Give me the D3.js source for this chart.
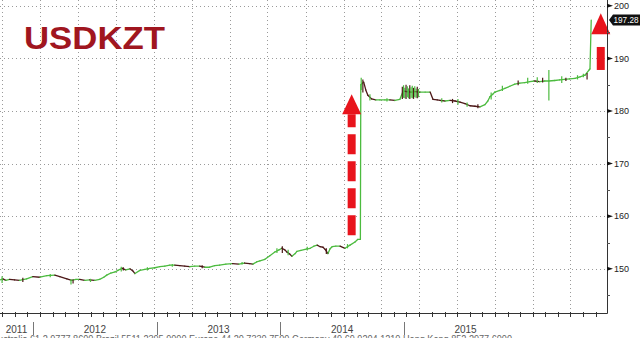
<!DOCTYPE html>
<html>
<head>
<meta charset="utf-8">
<script src="https://cdn.jsdelivr.net/npm/d3@7"></script>
<style>
	html, body { margin: 0; padding: 0; background: #fff; }
	svg { display: block; }
</style>
</head>
<body>
<div id="chart"></div>
<script>
// data
const title = 'USDKZT';
const dates = [
	'2011-09-26', '2011-10-03', '2011-10-10', '2011-10-19', '2011-10-31', '2011-11-12', '2011-11-29', '2011-12-14',
	'2011-12-31', '2012-01-17', '2012-02-05', '2012-02-17', '2012-03-05', '2012-03-17', '2012-03-27', '2012-04-05',
	'2012-04-17', '2012-04-29', '2012-05-11', '2012-05-23', '2012-06-02', '2012-06-09', '2012-06-19', '2012-06-29',
	'2012-07-06', '2012-07-16', '2012-07-25', '2012-08-04', '2012-08-11', '2012-08-16', '2012-08-28', '2012-09-09',
	'2012-09-21', '2012-10-03', '2012-10-15', '2012-10-27', '2012-11-08', '2012-11-20', '2012-12-02', '2012-12-14',
	'2012-12-26', '2013-01-07', '2013-01-19', '2013-01-31', '2013-02-12', '2013-02-24', '2013-03-08', '2013-03-23',
	'2013-04-08', '2013-04-23', '2013-05-07', '2013-05-19', '2013-05-27', '2013-06-05', '2013-06-13', '2013-06-25',
	'2013-07-07', '2013-07-19', '2013-07-29', '2013-08-05', '2013-08-12', '2013-08-17', '2013-08-24', '2013-08-29',
	'2013-09-06', '2013-09-10', '2013-09-20', '2013-09-30', '2013-10-12', '2013-10-21', '2013-10-29', '2013-11-05',
	'2013-11-12', '2013-11-17', '2013-11-24', '2013-11-29', '2013-12-04', '2013-12-13', '2013-12-23', '2014-01-04',
	'2014-01-16', '2014-01-28', '2014-02-04', '2014-02-10', '2014-02-11', '2014-02-18', '2014-02-23', '2014-02-28',
	'2014-03-09', '2014-03-19', '2014-03-29', '2014-04-10', '2014-04-22', '2014-05-04', '2014-05-16', '2014-05-24',
	'2014-06-02', '2014-06-12', '2014-06-21', '2014-07-04', '2014-07-16', '2014-07-28', '2014-08-04', '2014-08-14',
	'2014-08-21', '2014-09-02', '2014-09-14', '2014-09-26', '2014-10-08', '2014-10-20', '2014-11-01', '2014-11-13',
	'2014-11-25', '2014-12-07', '2014-12-14', '2014-12-19', '2014-12-26', '2014-12-31', '2015-01-12', '2015-01-24',
	'2015-02-05', '2015-02-17', '2015-03-01', '2015-03-13', '2015-03-25', '2015-04-06', '2015-04-18', '2015-04-30',
	'2015-05-10', '2015-05-24', '2015-06-05', '2015-06-17', '2015-06-29', '2015-07-12', '2015-07-24', '2015-08-05',
	'2015-08-15', '2015-08-17', '2015-08-20'
];
const closes = [
	147.9, 148.1, 147.8, 148.0, 147.9, 147.8, 148.1, 148.5,
	148.4, 148.7, 148.8, 148.5, 148.1, 147.8, 148.0, 148.0,
	147.8, 147.9, 147.8, 148.0, 148.4, 148.8, 149.2, 149.4,
	149.7, 150.1, 149.8, 150.0, 149.6, 149.1, 149.7, 149.9,
	150.1, 150.2, 150.4, 150.5, 150.7, 150.7, 150.6, 150.5,
	150.4, 150.5, 150.5, 150.3, 150.3, 150.6, 150.7, 150.9,
	151.0, 150.9, 151.1, 151.0, 150.9, 151.3, 151.5, 151.8,
	152.5, 153.2, 153.6, 153.9, 153.6, 153.2, 152.8, 152.4,
	152.9, 153.3, 153.5, 153.7, 153.9, 154.3, 154.5, 154.2,
	154.1, 153.7, 152.9, 153.8, 154.2, 154.3, 154.3, 153.9,
	154.5, 155.1, 155.6, 155.6, 185.0, 185.5, 184.0, 183.0,
	182.3, 182.1, 182.1, 182.1, 182.1, 182.0, 182.2, 183.8,
	183.7, 183.6, 183.7, 183.6, 183.6, 183.6, 182.2, 182.1,
	182.0, 181.9, 182.0, 181.9, 181.7, 181.4, 181.0, 180.9,
	180.8, 181.2, 181.9, 182.7, 183.2, 183.6, 183.9, 184.3,
	184.7, 185.1, 185.3, 185.4, 185.6, 185.7, 185.6, 185.7,
	185.7, 185.8, 185.9, 186.0, 186.1, 186.2, 186.5, 186.8,
	187.8, 188.0, 197.28
];
// high-low bars
const spikeDates = [
	'2011-10-01', '2011-11-20', '2012-01-25', '2012-03-15', '2012-03-20', '2012-05-01',
	'2012-07-14', '2012-07-19', '2012-09-15', '2012-11-14', '2013-01-25', '2013-05-01',
	'2013-07-24', '2013-08-06', '2013-08-20', '2013-10-05', '2013-11-20', '2014-01-10',
	'2014-02-12', '2014-02-16', '2014-03-05', '2014-04-15',
	'2014-05-22', '2014-05-25', '2014-05-28', '2014-05-31', '2014-06-03', '2014-06-06', '2014-06-09',
	'2014-06-12', '2014-06-15', '2014-06-18', '2014-06-21', '2014-06-24', '2014-06-27', '2014-06-30',
	'2014-08-25', '2014-09-20', '2014-10-03', '2014-10-25', '2014-11-20', '2014-12-22',
	'2015-01-18', '2015-02-25', '2015-03-20', '2015-04-12', '2015-04-25', '2015-05-10',
	'2015-06-10', '2015-06-20', '2015-07-18', '2015-08-01', '2015-08-10'
];
const spikeLows = [
	147.3, 147.5, 148.4, 147.0, 147.2, 147.5,
	149.5, 149.7, 149.7, 150.4, 150.1, 150.8,
	153.0, 153.0, 152.6, 153.5, 152.8, 153.9,
	184.0, 183.5, 182.0, 181.8,
	182.3, 182.5, 182.4, 182.3, 182.6, 182.4, 182.3,
	182.5, 182.4, 182.3, 182.6, 182.5, 182.4, 182.6,
	181.6, 181.5, 181.2, 180.8, 180.5, 182.2,
	183.8, 184.9, 185.2, 185.3, 185.4, 182.0,
	185.3, 185.7, 186.0, 186.4, 186.0
];
const spikeHighs = [
	148.6, 148.3, 149.0, 148.0, 148.0, 148.1,
	150.4, 150.3, 150.3, 150.9, 150.7, 151.3,
	153.9, 154.3, 153.6, 154.2, 153.9, 154.7,
	186.3, 186.0, 183.2, 182.4,
	184.6, 184.9, 184.4, 185.0, 184.7, 184.3, 184.9,
	184.5, 184.8, 184.4, 184.7, 184.3, 184.6, 184.2,
	182.4, 182.3, 182.3, 181.6, 181.3, 183.5,
	184.8, 185.8, 186.3, 186.4, 186.3, 187.8,
	186.6, 186.3, 186.8, 187.1, 187.2
];
const yTicks = [150, 160, 170, 180, 190, 200];
const yMinorTicks = [145, 155, 165, 175, 185, 195];
const yearLabels = [2011, 2012, 2013, 2014, 2015];
const lastValue = 197.28;
const arrowDates = ['2014-01-20', '2015-09-12'];
const arrowFrom = [156.4, 187.8];
const arrowTo = [183.2, 198.6];
const footer = 'Australia 61 2 9777 8600 Brazil 5511 2395 9000 Europe 44 20 7330 7500 Germany 49 69 9204 1210 Hong Kong 852 2977 6000';

const parse = d3.timeParse('%Y-%m-%d');
const width = 640, height = 338;
const plotRight = 607, plotBottom = 313;
const green = '#4cbb3f', dark = '#4d1818', red = '#e8141c';

const svg = d3.select('#chart').append('svg')
	.attr('width', width)
	.attr('height', height);

const x = d3.scaleTime()
	.domain([parse('2011-09-26'), parse('2015-09-27')])
	.range([0, plotRight]);
const y = d3.scaleLinear()
	.domain([141.6, 201.1])
	.range([plotBottom, 0]);
const yearX = d3.scaleLinear()
	.domain([2012, 2015])
	.range([33, 404]);

// grid
svg.append('g').selectAll('line.hgrid')
	.data(yTicks)
	.enter().append('line')
	.attr('class', 'hgrid')
	.attr('x1', 0).attr('x2', plotRight)
	.attr('y1', d => Math.round(y(d)) + 0.5).attr('y2', d => Math.round(y(d)) + 0.5)
	.attr('stroke', '#9a9a9a').attr('stroke-dasharray', '1,3');

const quarters = d3.timeMonth.every(3).range(x.domain()[0], x.domain()[1]);
svg.append('g').selectAll('line.vgrid')
	.data(quarters)
	.enter().append('line')
	.attr('class', 'vgrid')
	.attr('x1', d => Math.round(x(d)) + 0.5).attr('x2', d => Math.round(x(d)) + 0.5)
	.attr('y1', 0).attr('y2', plotBottom)
	.attr('stroke', '#9a9a9a').attr('stroke-dasharray', '1,3');

// title
svg.append('text')
	.attr('x', 24).attr('y', 49)
	.attr('textLength', 141).attr('lengthAdjust', 'spacingAndGlyphs')
	.style('font-family', '"Liberation Sans", Arial, sans-serif')
	.style('font-weight', 'bold')
	.style('font-size', '31px')
	.attr('fill', '#a0161f')
	.text(title);

// price line, coloured per move
const points = dates.map((d, i) => ({ date: parse(d), value: closes[i] }));
svg.append('g').selectAll('line.seg')
	.data(points.slice(1))
	.enter().append('line')
	.attr('class', 'seg')
	.attr('x1', (d, i) => x(points[i].date)).attr('y1', (d, i) => y(points[i].value))
	.attr('x2', d => x(d.date)).attr('y2', d => y(d.value))
	.attr('stroke', (d, i) => d.value >= points[i].value ? green : dark)
	.attr('stroke-width', 1.3)
	.attr('stroke-linecap', 'round');

svg.append('g').selectAll('line.spike')
	.data(spikeDates)
	.enter().append('line')
	.attr('class', 'spike')
	.attr('x1', d => x(parse(d))).attr('x2', d => x(parse(d)))
	.attr('y1', (d, i) => y(spikeLows[i])).attr('y2', (d, i) => y(spikeHighs[i]))
	.attr('stroke', (d, i) => i % 3 == 1 ? dark : green)
	.attr('stroke-width', 1.2);

// red arrows
arrowDates.forEach(function(d, i) {
	var cx = x(parse(d));
	var tip = y(arrowTo[i]);
	var base = y(arrowFrom[i]);
	var headLen = i == 0 ? 20 : 21;
	svg.append('line')
		.attr('x1', cx).attr('x2', cx)
		.attr('y1', base).attr('y2', tip + headLen)
		.attr('stroke', red)
		.attr('stroke-width', 8)
		.attr('stroke-dasharray', i == 0 ? '20,7' : '23,13');
	svg.append('path')
		.attr('d', 'M' + cx + ',' + tip + 'L' + (cx + 9.5) + ',' + (tip + headLen) + 'L' + (cx - 9.5) + ',' + (tip + headLen) + 'Z')
		.attr('fill', red);
});

// bottom axis
svg.append('line')
	.attr('x1', 0).attr('x2', plotRight + 0.5)
	.attr('y1', plotBottom + 0.5).attr('y2', plotBottom + 0.5)
	.attr('stroke', '#333');
const months = d3.timeMonth.range(x.domain()[0], x.domain()[1]);
svg.append('g').selectAll('line.mtick')
	.data(months)
	.enter().append('line')
	.attr('class', 'mtick')
	.attr('x1', d => Math.round(x(d)) + 0.5).attr('x2', d => Math.round(x(d)) + 0.5)
	.attr('y1', plotBottom - 1).attr('y2', plotBottom + 4)
	.attr('stroke', '#333');

// year band
svg.append('g').selectAll('line.ysep')
	.data(yearLabels.slice(1))
	.enter().append('line')
	.attr('class', 'ysep')
	.attr('x1', d => Math.round(yearX(d)) + 0.5).attr('x2', d => Math.round(yearX(d)) + 0.5)
	.attr('y1', 322).attr('y2', 335)
	.attr('stroke', '#777');
svg.append('g').selectAll('text.year')
	.data(yearLabels)
	.enter().append('text')
	.attr('class', 'year')
	.attr('x', d => (Math.max(0, yearX(d)) + Math.min(plotRight - 80, yearX(d + 1))) / 2)
	.attr('y', 333)
	.attr('text-anchor', 'middle')
	.style('font-family', '"Liberation Sans Narrow", "Arial Narrow", sans-serif')
	.style('font-size', '10px')
	.attr('fill', '#444')
	.text(d => d);

// source line, cut by the bottom edge as in the original
svg.append('text')
	.attr('x', -8).attr('y', 343)
	.attr('textLength', 520).attr('lengthAdjust', 'spacingAndGlyphs')
	.style('font-family', '"Liberation Sans", Arial, sans-serif')
	.style('font-size', '10px')
	.attr('fill', '#666')
	.text(footer);

// right axis
svg.append('line')
	.attr('x1', plotRight + 0.5).attr('x2', plotRight + 0.5)
	.attr('y1', 0).attr('y2', plotBottom + 0.5)
	.attr('stroke', '#333');
svg.append('g').selectAll('line.minor')
	.data(yMinorTicks)
	.enter().append('line')
	.attr('class', 'minor')
	.attr('x1', plotRight).attr('x2', plotRight + 3)
	.attr('y1', d => Math.round(y(d)) + 0.5).attr('y2', d => Math.round(y(d)) + 0.5)
	.attr('stroke', '#555');
svg.append('g').selectAll('path.major')
	.data(yTicks)
	.enter().append('path')
	.attr('class', 'major')
	.attr('d', d => 'M' + plotRight + ',' + (y(d) - 2) + 'L' + (plotRight + 6) + ',' + y(d) + 'L' + plotRight + ',' + (y(d) + 2) + 'Z')
	.attr('fill', '#111');
svg.append('g').selectAll('text.ylab')
	.data(yTicks)
	.enter().append('text')
	.attr('class', 'ylab')
	.attr('x', plotRight + 7).attr('y', d => y(d))
	.attr('dy', '0.35em')
	.style('font-family', '"Liberation Sans", Arial, sans-serif')
	.style('font-size', '9px')
	.attr('fill', '#222')
	.text(d => d);

// last value tag
const ly = y(lastValue);
svg.append('path')
	.attr('d', 'M' + (plotRight + 2) + ',' + ly + 'L' + (plotRight + 6) + ',' + (ly - 5.5) + 'L' + width + ',' + (ly - 5.5) +
		'L' + width + ',' + (ly + 5.5) + 'L' + (plotRight + 6) + ',' + (ly + 5.5) + 'Z')
	.attr('fill', '#111');
svg.append('text')
	.attr('x', plotRight + 6.5).attr('y', ly)
	.attr('dy', '0.35em')
	.attr('textLength', 25).attr('lengthAdjust', 'spacingAndGlyphs')
	.style('font-family', '"Liberation Sans", Arial, sans-serif')
	.style('font-size', '9px')
	.attr('fill', '#fff')
	.text(lastValue.toFixed(2));
</script>
</body>
</html>
